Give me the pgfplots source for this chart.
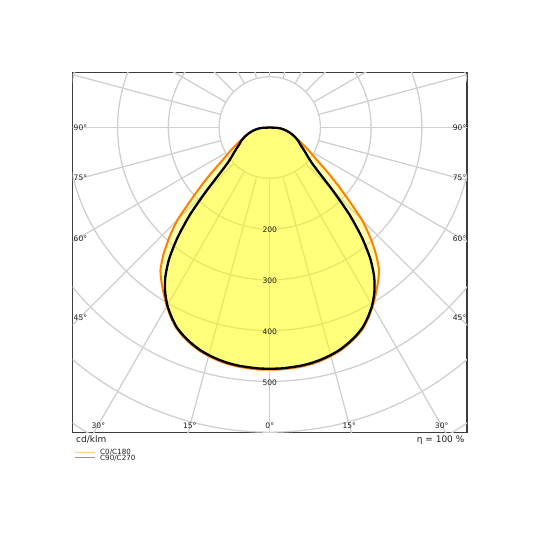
\documentclass[border=0pt]{standalone}
\usepackage{fontspec}
\setmainfont{DejaVu Sans}
\usepackage{pgfplots}
\pgfplotsset{compat=1.18}
\usepackage{pgfplotstable}

\definecolor{gridgray}{RGB}{208,208,208}
\definecolor{ldcorange}{RGB}{255,128,0}
\definecolor{ldcfill}{RGB}{255,255,0}
\definecolor{framegray}{RGB}{60,60,60}
\definecolor{txtgray}{RGB}{30,30,30}
\definecolor{legorange}{RGB}{255,205,150}
\definecolor{leggray}{RGB}{150,150,150}

% g = gamma angle (deg, 0 = downward), Ib = C90/C270, Io = C0/C180 (cd/klm)
\pgfplotstableread{
g Ib Io
-90 0 0
-87.5 14 14
-85 22 22
-82.5 27 27
-80 32 32
-77.5 37 37
-75 42 42
-72.5 47 47
-70 52 52
-67.5 57 58
-65 62 66
-62.5 66 76
-60 71 87
-57.5 78 100
-55 86 116
-52.5 95 142
-50 108 173
-47.5 133 210
-45 177 257
-42.5 233 293
-40 283 326
-37.5 326 354
-35 359 372
-32.5 384 389
-30 404 406
-27.5 420 422
-25 434 436
-22.5 444 446
-20 452 454
-17.5 459 461
-15 464 466
-12.5 468 470
-10 471 473
-7.5 473 475
-5 474 476
-2.5 475 477
0 475 477
2.5 475 477
5 474 476
7.5 473 475
10 471 473
12.5 468 470
15 464 466
17.5 459 461
20 452 454
22.5 444 446
25 434 436
27.5 420 422
30 404 406
32.5 384 389
35 359 372
37.5 326 354
40 283 326
42.5 233 293
45 177 257
47.5 133 210
50 108 173
52.5 95 142
55 86 116
57.5 78 100
60 71 87
62.5 66 76
65 62 66
67.5 57 58
70 52 52
72.5 47 47
75 42 42
77.5 37 37
80 32 32
82.5 27 27
85 22 22
87.5 14 14
90 0 0
}\ldcdata

\begin{document}
\begin{tikzpicture}[x=1bp,y=1bp]
\useasboundingbox (0bp,0bp) rectangle (540bp,540bp);
\begin{axis}[
  at={(72.5bp,107.3bp)}, anchor=south west,
  scale only axis, width=394.5bp, height=360bp,
  xmin=-389, xmax=389, ymin=-601, ymax=108,
  xtick=\empty, ytick=\empty,
  axis line style={framegray, line width=1.5bp},
  clip=true,
]
% polar grid
\pgfplotsinvokeforeach{100,200,300,400,500,600,700}{
  \draw[gridgray, line width=1.3bp] (axis cs:0,0) circle[radius=#1];
}
\pgfplotsinvokeforeach{0,15,...,345}{
  \draw[gridgray, line width=1.3bp] (axis cs:{100*cos(#1)},{100*sin(#1)}) -- (axis cs:{800*cos(#1)},{800*sin(#1)});
}
% curves
\addplot[data cs=polar, smooth, tension=0.4, draw=ldcorange, line width=2bp,
  fill=ldcfill, fill opacity=0.3, draw opacity=1]
  table[x expr=\thisrow{g}-90, y=Io] {\ldcdata};
\addplot[data cs=polar, smooth, tension=0.4, draw=black, line width=2.3bp,
  fill=ldcfill, fill opacity=0.3, draw opacity=1]
  table[x expr=\thisrow{g}-90, y=Ib] {\ldcdata};
% ring labels
\begin{scope}[every node/.style={font=\fontsize{7.6}{9}\selectfont, text=txtgray, inner sep=0pt}]
\node at (axis cs:0,-202) {200};
\node at (axis cs:0,-301) {300};
\node at (axis cs:0,-402) {400};
\node at (axis cs:0,-503) {500};
\node[anchor=west] at (axis cs:-387,0) {90°};
\node[anchor=west] at (axis cs:-387,-99.8) {75°};
\node[anchor=west] at (axis cs:-387,-219) {60°};
\node[anchor=west] at (axis cs:-387,-375.3) {45°};
\node[anchor=east] at (axis cs:388,0) {90°};
\node[anchor=east] at (axis cs:388,-99.8) {75°};
\node[anchor=east] at (axis cs:388,-219) {60°};
\node[anchor=east] at (axis cs:388,-375.3) {45°};
\node at (axis cs:-338,-586.4) {30°};
\node at (axis cs:-157.8,-586.4) {15°};
\node at (axis cs:0,-586.4) {0°};
\node at (axis cs:156.7,-586.4) {15°};
\node at (axis cs:339,-586.4) {30°};
\end{scope}
\end{axis}
% texts below the frame
\node[anchor=base west, inner sep=0pt, font=\fontsize{9}{11}\selectfont, text=txtgray] at (76bp,97.5bp) {cd/klm};
\node[anchor=base east, inner sep=0pt, font=\fontsize{9}{11}\selectfont, text=txtgray] at (464.5bp,97.5bp) {η = 100 \%};
% legend
\draw[legorange, line width=1bp] (75bp,87.3bp) -- (95bp,87.3bp);
\draw[leggray, line width=1bp] (75bp,82.7bp) -- (95bp,82.7bp);
\node[anchor=base west, inner sep=0pt, font=\fontsize{7.2}{9}\selectfont, text=txtgray] at (100bp,85.3bp) {C0/C180};
\node[anchor=base west, inner sep=0pt, font=\fontsize{7.2}{9}\selectfont, text=txtgray] at (100bp,79.2bp) {C90/C270};
\end{tikzpicture}
\end{document}
